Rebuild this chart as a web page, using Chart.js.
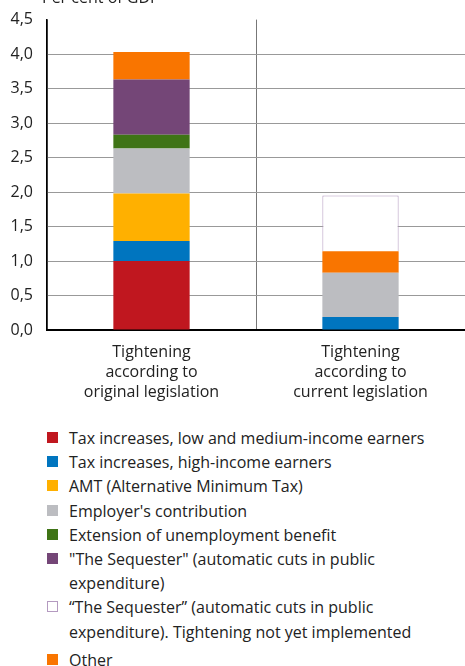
<!DOCTYPE html>
<html>
<head>
<meta charset="utf-8">
<script src="https://cdn.jsdelivr.net/npm/chart.js@4"></script>
<style>
  body { margin: 0; background: #fff; font-family: "Open Sans", sans-serif; color: #222; }
  #wrap { position: relative; width: 465px; height: 666px; overflow: hidden; }
  #ytitle { position: absolute; left: 42px; top: -14px; font-size: 16px; }
  #chartBox { position: absolute; left: 0; top: -4px; width: 465px; height: 419px; }
  #legend { position: absolute; left: 47px; top: 426px; font-size: 16px; line-height: 24.2px; }
  .item { position: relative; padding-left: 22px; white-space: nowrap; }
  .sw { position: absolute; left: 0; top: 6px; width: 11px; height: 11px; box-sizing: border-box; }
</style>
</head>
<body>
<div id="wrap">
  <div id="chartBox"><canvas id="chart"></canvas></div>
  <div id="ytitle">Per cent of GDP</div>
  <div id="legend"></div>
</div>
<script>
var categories = [
    ["Tightening", "according to", "original legislation"],
    ["Tightening", "according to", "current legislation"]
];
var taxLowMedium = [1.0, 0];
var taxHigh = [0.29, 0.19];
var amt = [0.69, 0];
var employer = [0.65, 0.64];
var unemployment = [0.2, 0];
var sequester = [0.8, 0];
var other = [0.4, 0.31];
var sequesterPending = [0, 0.81];
var yTicks = [0, 0.5, 1, 1.5, 2, 2.5, 3, 3.5, 4, 4.5];

var series = [
    { label: ["Tax increases, low and medium-income earners"], data: taxLowMedium, color: "#c0171f" },
    { label: ["Tax increases, high-income earners"], data: taxHigh, color: "#0075bf" },
    { label: ["AMT (Alternative Minimum Tax)"], data: amt, color: "#ffb000" },
    { label: ["Employer's contribution"], data: employer, color: "#bcbdc1" },
    { label: ["Extension of unemployment benefit"], data: unemployment, color: "#3f7416" },
    { label: ["\"The Sequester\" (automatic cuts in public", "expenditure)"], data: sequester, color: "#744677" },
    { label: ["Other"], data: other, color: "#f97500" },
    { label: ["\u201CThe Sequester\u201D (automatic cuts in public", "expenditure). Tightening not yet implemented"], data: sequesterPending, color: "#ffffff", border: "#b49ac0" }
];

var datasets = series.map(function (s) {
    return {
        label: s.label.join(" "),
        data: s.data,
        backgroundColor: s.color,
        borderColor: s.border || s.color,
        borderWidth: s.border ? 1 : 0,
        barPercentage: 0.365,
        categoryPercentage: 1.0
    };
});

var ctx = document.getElementById("chart").getContext('2d');
var myChart = new Chart(ctx, {
    type: 'bar',
    data: { labels: categories, datasets: datasets },
    options: {
        responsive: true,
        maintainAspectRatio: false,
        animation: false,
        layout: { padding: { top: 7, right: 0, left: 0, bottom: 0 } },
        plugins: { legend: { display: false }, tooltip: { enabled: false } },
        scales: {
            x: {
                stacked: true,
                offset: true,
                grid: { offset: true, color: "#777", drawTicks: false },
                border: { color: "#000", width: 2 },
                ticks: { color: "#222", font: { family: "Open Sans", size: 16, lineHeight: 1.25 }, padding: 12, maxRotation: 0 },
                afterFit: function (scale) { scale.height = 85; }
            },
            y: {
                stacked: true,
                min: 0,
                max: 4.5,
                afterBuildTicks: function (scale) {
                    scale.ticks = yTicks.map(function (v) { return { value: v }; });
                },
                grid: {
                    drawTicks: false,
                    color: function (c) { return c.tick && c.tick.value === 4.5 ? "rgba(0,0,0,0)" : "#999"; }
                },
                border: { color: "#000", width: 1.5 },
                ticks: {
                    color: "#222",
                    font: { family: "Open Sans", size: 16 },
                    padding: 14,
                    callback: function (v) { return v.toFixed(1).replace(".", ","); }
                },
                afterFit: function (scale) { scale.width = 47; }
            }
        }
    }
});

var legend = document.getElementById("legend");
var order = [0, 1, 2, 3, 4, 5, 7, 6];
order.forEach(function (i) {
    var s = series[i];
    var div = document.createElement("div");
    div.className = "item";
    var sw = document.createElement("span");
    sw.className = "sw";
    sw.style.background = s.color;
    if (s.border) sw.style.border = "1px solid " + s.border;
    div.appendChild(sw);
    s.label.forEach(function (line, k) {
        if (k > 0) div.appendChild(document.createElement("br"));
        div.appendChild(document.createTextNode(line));
    });
    if (i === 6) div.style.marginTop = "4px";
    legend.appendChild(div);
});
</script>
</body>
</html>
